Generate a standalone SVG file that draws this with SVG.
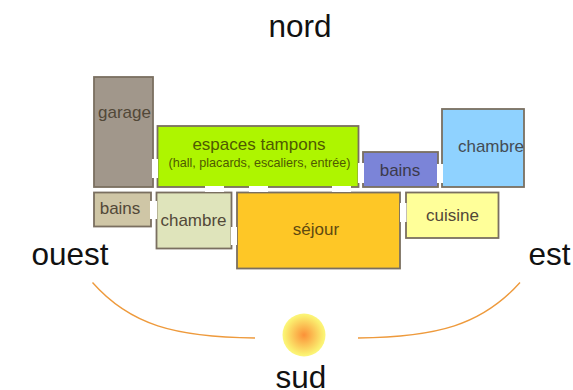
<svg xmlns="http://www.w3.org/2000/svg" width="573" height="390" viewBox="0 0 573 390">
<style>
.room{stroke:#7a6f60;stroke-width:1.800}
text{font-family:"Liberation Sans",Arial,sans-serif;text-anchor:middle}
.lbl{font-size:17px;fill:#524838}
.dir{font-size:31.500px;fill:#111}
.gap{fill:#fff}
.arc{fill:none;stroke:#ee9a3c;stroke-width:1.400}
</style>
<defs><radialGradient id="sun"><stop offset="0" stop-color="#fb9138"/><stop offset="0.900" stop-color="#fbf070"/><stop offset="1" stop-color="#fcf67c"/></radialGradient></defs>
<rect width="573" height="390" fill="#fff"/>
<text class="dir" x="300" y="37">nord</text>
<text class="dir" x="70" y="265">ouest</text>
<text class="dir" x="549.500" y="265">est</text>
<text class="dir" x="301" y="388">sud</text>
<g id="garage"><rect class="room" x="94" y="77" width="59" height="110" fill="#a1978b"/><text class="lbl" x="124.500" y="118">garage</text></g>
<g id="espaces"><rect class="room" x="157.500" y="126" width="201" height="61" fill="#aef500"/><text class="lbl" x="259" y="150" style="fill:#4f5a00">espaces tampons</text><text x="259.500" y="167" font-size="12.600" fill="#4f5a00">(hall, placards, escaliers, entrée)</text></g>
<g id="bains-ouest"><rect class="room" x="94" y="192.500" width="57" height="34" fill="#cfc6a6"/><text class="lbl" x="120" y="214">bains</text></g>
<g id="chambre-ouest"><rect class="room" x="156.500" y="192.500" width="75" height="56" fill="#dfe4bb"/><text class="lbl" x="193.500" y="226">chambre</text></g>
<g id="sejour"><rect class="room" x="237" y="192.500" width="163" height="76" fill="#fec726"/><text class="lbl" x="316" y="235" style="fill:#5f4a10">séjour</text></g>
<g id="bains-est"><rect class="room" x="363" y="152" width="75" height="35" fill="#7b84d8"/><text class="lbl" x="400" y="176" style="fill:#3c3a4c">bains</text></g>
<g id="chambre-est"><rect class="room" x="442" y="109" width="82" height="78" fill="#8fd2ff"/><text class="lbl" x="491" y="152" style="fill:#444c55">chambre</text></g>
<g id="cuisine"><rect class="room" x="406" y="192.500" width="92.500" height="45.500" fill="#ffff99"/><text class="lbl" x="452.500" y="221">cuisine</text></g>
<g id="ouvertures">
<rect class="gap" x="152" y="159" width="6" height="19"/>
<rect class="gap" x="150" y="201" width="7" height="18"/>
<rect class="gap" x="205" y="186" width="19" height="6"/>
<rect class="gap" x="249" y="186" width="19" height="6"/>
<rect class="gap" x="332" y="186" width="19" height="6"/>
<rect class="gap" x="231" y="227" width="6" height="18"/>
<rect class="gap" x="358" y="163" width="6" height="20"/>
<rect class="gap" x="437" y="164" width="6" height="19"/>
<rect class="gap" x="400" y="203" width="6.500" height="19"/>
</g>
<g id="connecteurs">
<path class="arc" d="M92.500 282.500C130 325 175 337 255 338"/>
<path class="arc" d="M520 282.500C482 325 437 337 358 338"/>
</g>
<g id="soleil"><circle cx="304" cy="335" r="21.500" fill="url(#sun)"/></g>
</svg>
